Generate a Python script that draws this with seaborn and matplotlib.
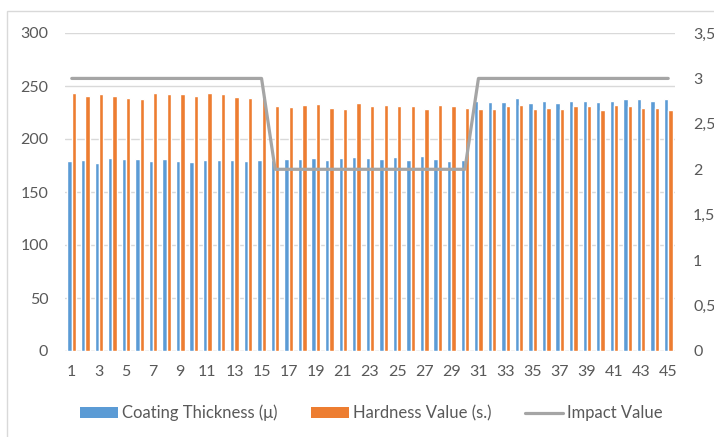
import numpy as np
import pandas as pd
import matplotlib
matplotlib.use("Agg")
import matplotlib.pyplot as plt
import seaborn as sns
from matplotlib.patches import Rectangle, Patch
from matplotlib.lines import Line2D
from matplotlib.ticker import FixedLocator, FuncFormatter

# Sample numbers 1..45
samples = [str(i) for i in range(1, 46)]

coating_thickness = [179, 180, 177, 182, 181, 181, 179, 181, 179, 178, 180, 180, 180, 179, 180,
                     180, 181, 181, 182, 180, 182, 183, 182, 181, 183, 180, 184, 181, 179, 180,
                     236, 235, 235, 239, 234, 236, 234, 236, 236, 235, 236, 238, 238, 236, 238]

hardness_value = [243, 241, 242, 241, 239, 238, 243, 242, 242, 241, 243, 242, 240, 239, 240,
                  231, 230, 232, 233, 229, 228, 234, 231, 232, 231, 231, 228, 232, 231, 229,
                  228, 228, 231, 232, 228, 229, 228, 231, 231, 227, 232, 231, 229, 229, 227]

impact_value = [3] * 15 + [2] * 15 + [3] * 15

series_names = ["Coating Thickness (\u03bc)", "Hardness Value (s.)"]
line_name = "Impact Value"

BLUE = "#5B9BD5"
ORANGE = "#ED7D31"
GRAY = "#A5A5A5"
GRID = "#D9D9D9"
TEXT = "#595959"

sns.set_theme(style="white")
plt.rcParams["font.family"] = ["Lato", "DejaVu Sans"]

df = pd.DataFrame({
    "sample": samples * 2,
    "value": coating_thickness + hardness_value,
    "series": [series_names[0]] * len(samples) + [series_names[1]] * len(samples),
})

W, H = 714, 437
fig = plt.figure(figsize=(W / 100, H / 100), dpi=100)
ax = fig.add_axes([65 / W, 1 - 351 / H, (675 - 65) / W, (351 - 33) / H])

sns.barplot(data=df, x="sample", y="value", hue="series", order=samples,
            hue_order=series_names, palette=[BLUE, ORANGE], width=0.64,
            gap=0, saturation=1, ax=ax, legend=False)

ax.set_xlim(-0.5, len(samples) - 0.5)
ax.set_ylim(0, 300)
ax.set_yticks(np.arange(0, 301, 50))
ax.yaxis.grid(True, color=GRID, linewidth=1)
ax.set_axisbelow(True)
for s in ax.spines.values():
    s.set_visible(False)
ax.axhline(0, color=GRID, linewidth=1, zorder=0.5)
ax.set_xlabel("")
ax.set_ylabel("")
ax.xaxis.set_major_locator(FixedLocator(range(0, len(samples), 2)))
ax.set_xticklabels(samples[::2])
ax.tick_params(axis="x", length=0, pad=10, labelsize=11.5, labelcolor=TEXT)
ax.tick_params(axis="y", length=0, pad=12, labelsize=11.5, labelcolor=TEXT)

ax2 = ax.twinx()
sns.lineplot(x=np.arange(len(samples)), y=impact_value, color=GRAY,
             linewidth=2.3, ax=ax2, legend=False)
ax2.set_ylim(0, 3.5)
ax2.set_yticks(np.arange(0, 3.51, 0.5))
ax2.yaxis.set_major_formatter(FuncFormatter(lambda v, p: f"{v:g}".replace(".", ",")))
for s in ax2.spines.values():
    s.set_visible(False)
ax2.tick_params(axis="y", length=0, pad=13, labelsize=11.5, labelcolor=TEXT)
ax2.set_xlim(-0.5, len(samples) - 0.5)
ax2.set_ylabel("")

# legend below the plot
handles = [Patch(facecolor=BLUE, edgecolor="none"),
           Patch(facecolor=ORANGE, edgecolor="none"),
           Line2D([0], [0], color=GRAY, linewidth=2.3)]
fig.legend(handles, series_names + [line_name], loc="center",
           bbox_to_anchor=(0.52, 1 - 413 / H), ncol=3, frameon=False,
           handlelength=2.3, handleheight=0.6, handletextpad=0.24,
           columnspacing=2.0, fontsize=12, labelcolor=TEXT)

# chart border
fig.patches.append(Rectangle((7 / W, -0.05), 1.1, 1 - 11 / H + 0.05,
                             transform=fig.transFigure, fill=False,
                             edgecolor=GRID, linewidth=1))

fig.savefig("out.png", dpi=100)
